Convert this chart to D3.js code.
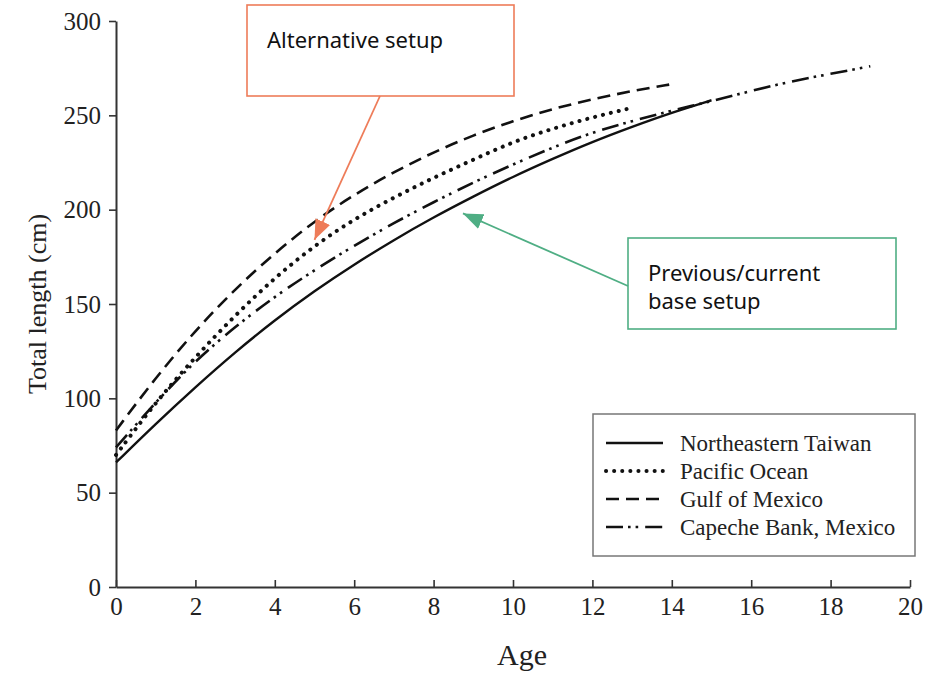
<!DOCTYPE html>
<html>
<head>
<meta charset="utf-8">
<script src="https://cdn.jsdelivr.net/npm/d3@7"></script>
<style>
	body{margin:0;background:#fff;}
	svg{display:block;}
</style>
</head>
<body>
<div id="chart"></div>
<script>
// values (age in years, total length in cm)
var seriesNames = ["Northeastern Taiwan", "Pacific Ocean", "Gulf of Mexico", "Capeche Bank, Mexico"];

var agesTaiwan = [0, 1, 2, 3, 4, 5, 6, 7, 8, 9, 10, 11, 12, 13, 14, 15];
var lenTaiwan  = [66, 86.5, 106, 124.5, 141.5, 157, 171, 184, 196, 207, 217.5, 227, 236, 244, 251.5, 258];

var agesPacific = [0, 1, 2, 3, 4, 5, 6, 7, 8, 9, 10, 11, 12, 13];
var lenPacific  = [70, 98, 122, 144, 164, 181, 195, 206.5, 217, 226.5, 236, 243, 249, 254];

var agesGulf = [0, 1, 2, 3, 4, 5, 6, 7, 8, 9, 10, 11, 12, 13, 14];
var lenGulf  = [83, 111, 136, 158, 177, 194, 208, 220, 230.5, 239.5, 247, 253.5, 258.5, 263, 266.5];

var agesCapeche = [0, 1, 2, 3, 4, 5, 6, 7, 8, 9, 10, 11, 12, 13, 14, 15, 16, 17, 18, 19];
var lenCapeche  = [74, 98, 120, 138, 154, 168, 181, 193, 204, 214.5, 224, 233, 241, 247, 252.5, 257.5, 263, 268, 272, 276];

var xTicks = [0, 2, 4, 6, 8, 10, 12, 14, 16, 18, 20];
var yTicks = [0, 50, 100, 150, 200, 250, 300];

var noteTexts = [["Alternative setup"], ["Previous/current", "base setup"]];
var noteTips = [[5.0, 184], [8.74, 198]]; // where each arrow points, in data units

var width = 938, height = 673;
var dashes = ["none", "0.1 8", "13 7", "17 5 2.6 5 2.6 7"];
var widths = [2.4, 4, 2.6, 2.6];

var svg = d3.select("#chart").append("svg")
	.attr("width", width)
	.attr("height", height);

var x = d3.scaleLinear().domain([0, 20]).range([116, 910]);
var y = d3.scaleLinear().domain([0, 300]).range([587, 21]);

function zipSeries(ages, lens){
	return ages.map(function(a, i){ return {age: a, len: lens[i]}; });
}
var series = [
	zipSeries(agesTaiwan, lenTaiwan),
	zipSeries(agesPacific, lenPacific),
	zipSeries(agesGulf, lenGulf),
	zipSeries(agesCapeche, lenCapeche)
];

// axes
var gx = svg.append("g")
	.attr("transform", "translate(0," + y(0) + ")")
	.call(d3.axisBottom(x).tickValues(xTicks).tickSizeInner(-7).tickSizeOuter(0).tickPadding(10));
var gy = svg.append("g")
	.attr("transform", "translate(" + x(0) + ",0)")
	.call(d3.axisLeft(y).tickValues(yTicks).tickSizeInner(7).tickSizeOuter(0).tickPadding(8));

[gx, gy].forEach(function(g){
	g.select(".domain").attr("stroke", "#333").attr("stroke-width", 2);
	g.selectAll(".tick line").attr("stroke", "#333").attr("stroke-width", 1.6);
	g.selectAll(".tick text")
		.attr("fill", "#222")
		.style("font-family", "'Liberation Serif', 'Times New Roman', serif")
		.style("font-size", "25px");
});

svg.append("text")
	.attr("x", (x(0) + x(20)) / 2 + 9)
	.attr("y", 665)
	.attr("text-anchor", "middle")
	.attr("fill", "#222")
	.style("font-family", "'Liberation Serif', serif")
	.style("font-size", "30px")
	.text("Age");

svg.append("text")
	.attr("transform", "translate(46," + y(150) + ") rotate(-90)")
	.attr("text-anchor", "middle")
	.attr("fill", "#222")
	.style("font-family", "'Liberation Serif', serif")
	.style("font-size", "26px")
	.text("Total length (cm)");

// growth curves
var toLine = d3.line()
	.curve(d3.curveBasis)
	.x(function(d){ return x(d.age); })
	.y(function(d){ return y(d.len); });

svg.append("g").selectAll("path")
	.data(series)
	.enter().append("path")
	.attr("d", toLine)
	.attr("fill", "none")
	.attr("stroke", "#111")
	.attr("stroke-width", function(d, i){ return widths[i]; })
	.attr("stroke-dasharray", function(d, i){ return dashes[i]; })
	.attr("stroke-linecap", function(d, i){ return i == 1 ? "round" : "butt"; });

// legend
var legend = svg.append("g").attr("transform", "translate(593,414)");
legend.append("rect")
	.attr("width", 322).attr("height", 142)
	.attr("fill", "#fff")
	.attr("stroke", "#777")
	.attr("stroke-width", 1.5);
var rows = legend.selectAll(".row")
	.data(seriesNames)
	.enter().append("g")
	.attr("class", "row")
	.attr("transform", function(d, i){ return "translate(0," + (29 + i * 28) + ")"; });
rows.append("line")
	.attr("x1", 13).attr("x2", 70)
	.attr("stroke", "#111")
	.attr("stroke-width", function(d, i){ return widths[i]; })
	.attr("stroke-dasharray", function(d, i){ return dashes[i]; })
	.attr("stroke-linecap", function(d, i){ return i == 1 ? "round" : "butt"; });
rows.append("text")
	.attr("x", 87).attr("y", 8)
	.attr("fill", "#222")
	.style("font-family", "'Liberation Serif', serif")
	.style("font-size", "23px")
	.text(function(d){ return d; });

// annotation boxes with arrows
var notes = [
	{box: [247, 5, 267, 91], lines: noteTexts[0], color: "#ee7c59", from: [380, 96], tip: noteTips[0], ty: 48},
	{box: [628, 238, 268, 91], lines: noteTexts[1], color: "#4fae84", from: [628, 286], tip: noteTips[1], ty: 281}
];

var defs = svg.append("defs");
notes.forEach(function(n, i){
	defs.append("marker")
		.attr("id", "head" + i)
		.attr("markerUnits", "userSpaceOnUse")
		.attr("markerWidth", 20).attr("markerHeight", 16)
		.attr("refX", 20).attr("refY", 8)
		.attr("orient", "auto")
		.append("path")
		.attr("d", "M0,0 L20,8 L0,16 Z")
		.attr("fill", n.color);

	svg.append("rect")
		.attr("x", n.box[0]).attr("y", n.box[1])
		.attr("width", n.box[2]).attr("height", n.box[3])
		.attr("fill", "#fff")
		.attr("stroke", n.color)
		.attr("stroke-width", 1.6);

	svg.append("line")
		.attr("x1", n.from[0]).attr("y1", n.from[1])
		.attr("x2", x(n.tip[0])).attr("y2", y(n.tip[1]))
		.attr("stroke", n.color)
		.attr("stroke-width", 1.8)
		.attr("marker-end", "url(#head" + i + ")");

	n.lines.forEach(function(t, j){
		svg.append("text")
			.attr("x", n.box[0] + 20)
			.attr("y", n.ty + j * 28)
			.attr("fill", "#111")
			.style("font-family", "'Noto Sans', sans-serif")
			.style("font-size", "22px")
			.text(t);
	});
});
</script>
</body>
</html>
